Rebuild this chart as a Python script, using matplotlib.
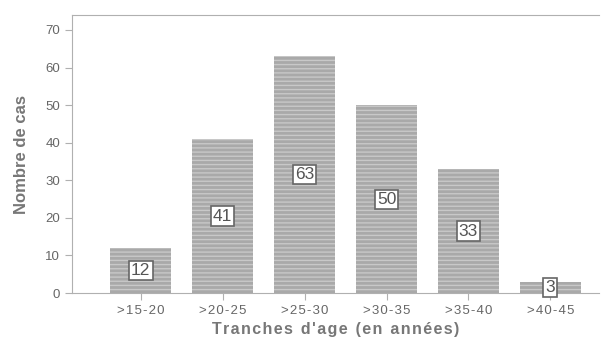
import matplotlib.pyplot as plt
import numpy as np

# Donnees
tranches = ['>15-20', '>20-25', '>25-30', '>30-35', '>35-40', '>40-45']
cas = [12, 41, 63, 50, 33, 3]

plt.rcParams['font.family'] = ['Liberation Sans', 'DejaVu Sans']
plt.rcParams['hatch.linewidth'] = 1.0

fig = plt.figure(figsize=(6.07, 3.4), dpi=100)
ax = fig.add_axes([0.1186, 0.138, 0.869, 0.818])

x = np.arange(len(tranches))
barres = ax.bar(x, cas, width=0.74, color='#a9a9a9', edgecolor='#c8c8c8',
                linewidth=0, hatch='----')

# Etiquettes dans les barres
for xi, v in zip(x, cas):
    ax.text(xi, v / 2, str(v), ha='center', va='center', fontsize=12.5, color='#555555',
            bbox=dict(boxstyle='square,pad=0.12', facecolor='white', edgecolor='#666666', linewidth=1.2))

ax.set_xlim(-0.84, 5.6)
ax.set_ylim(0, 74)
ax.set_yticks(np.arange(0, 71, 10))
ax.set_xticks(x)
ax.set_xticklabels([t.replace('', '\u200a')[1:-1] for t in tranches])

for s in ['left', 'top', 'bottom']:
    ax.spines[s].set_color('#b0b0b0')
ax.spines['right'].set_visible(False)
ax.tick_params(axis='both', colors='#b0b0b0', labelcolor='#666666', labelsize=9.5, length=5)

ax.set_ylabel('Nombre de cas', fontsize=12, fontweight='bold', color='#777777', labelpad=12)
ax.set_xlabel("T r a n c h e s   d ' a g e   ( e n   a n n é e s )".replace('   ', '\u2002').replace(' ', '\u200a'),
              fontsize=11.5, fontweight='bold', color='#777777', labelpad=4)

plt.savefig('out.png', dpi=100)
